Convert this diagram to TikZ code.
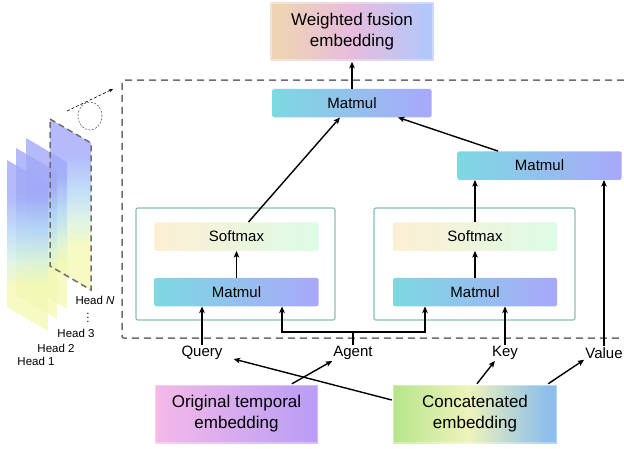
\documentclass[tikz,border=0pt]{standalone}
\usepackage{fontspec}
\setmainfont{Liberation Sans}
\usetikzlibrary{arrows.meta,positioning,calc}
\tikzset{>=Stealth}

\definecolor{mmA}{HTML}{7DD9E2}
\definecolor{mmB}{HTML}{A9A8F9}
\definecolor{smA}{HTML}{FCEFD4}
\definecolor{smB}{HTML}{DDFBE6}
\definecolor{wfA}{HTML}{EFD3B5}
\definecolor{wfB}{HTML}{E7BCDD}
\definecolor{wfC}{HTML}{B3C7FA}
\definecolor{otA}{HTML}{F4B9E7}
\definecolor{otB}{HTML}{B89DF6}
\definecolor{ceA}{HTML}{B7E58B}
\definecolor{ceB}{HTML}{EEF3BA}
\definecolor{ceC}{HTML}{8EBEEC}
\definecolor{hdA}{HTML}{A0A8F8}
\definecolor{hdB}{HTML}{B3D6F7}
\definecolor{hdM}{HTML}{D8F2DC}
\definecolor{hdC}{HTML}{F3F8B2}
\definecolor{framegray}{HTML}{6E6E6E}
\definecolor{cont}{HTML}{88C0B6}

% shadings: the shape covers 25bp..75bp
\pgfdeclarehorizontalshading{matmulsh}{100bp}{color(0bp)=(mmA); color(25bp)=(mmA); color(75bp)=(mmB); color(100bp)=(mmB)}
\pgfdeclarehorizontalshading{softsh}{100bp}{color(0bp)=(smA); color(25bp)=(smA); color(75bp)=(smB); color(100bp)=(smB)}
\pgfdeclarehorizontalshading{fusesh}{100bp}{color(0bp)=(wfA); color(28bp)=(wfA); color(50bp)=(wfB); color(73bp)=(wfC); color(100bp)=(wfC)}
\pgfdeclarehorizontalshading{origsh}{100bp}{color(0bp)=(otA); color(25bp)=(otA); color(75bp)=(otB); color(100bp)=(otB)}
\pgfdeclarehorizontalshading{concsh}{100bp}{color(0bp)=(ceA); color(25bp)=(ceA); color(48bp)=(ceB); color(72bp)=(ceC); color(100bp)=(ceC)}
\pgfdeclareverticalshading{headsh}{100bp}{color(0bp)=(hdC); color(25bp)=(hdC); color(38bp)=(hdC); color(45bp)=(hdM); color(54bp)=(hdB); color(64bp)=(hdA); color(100bp)=(hdA)}

\begin{document}
\begin{tikzpicture}[x=1pt,y=-1pt,
  every node/.style={font=\fontsize{15}{18}\selectfont},
  op/.style={shading=matmulsh, minimum width=164pt, minimum height=28.5pt, rounded corners=1.5pt, inner sep=0pt},
  soft/.style={op, shading=softsh},
  unit/.style={draw=cont, line width=1.2pt, rounded corners=2pt, fill=white, minimum width=199pt, minimum height=112pt},
  embed/.style={minimum width=163pt, minimum height=58pt, align=center, font=\fontsize{17}{21}\selectfont, draw=white, draw opacity=.35, line width=2.5pt},
  tag/.style={inner sep=1pt},
  headtag/.style={font=\fontsize{11.5}{14}\selectfont, inner sep=0pt},
  arr/.style={->, line width=1.4pt, >={Stealth[length=6.5pt,width=5.5pt,inset=1.5pt]}},
  wire/.style={line width=1.4pt},
  plane/.style={shading=headsh, fill opacity=.78},
]
\useasboundingbox (0,0) rectangle (624,448);

% attention heads
\foreach \hx/\hy in {50/119, 26/138, 16/148, 7/160}
  \shade[plane] (\hx,\hy) -- ++(41,24) -- ++(0,147) -- ++(-41,-24) -- cycle;
\draw[framegray, line width=1.5pt, dash pattern=on 6pt off 4pt]
  (50,119) -- ++(41,24) -- ++(0,147) -- ++(-41,-24) -- cycle;
\draw[framegray!80!black, line width=.6pt, dash pattern=on 2pt off 1.5pt] (90,116) ellipse [x radius=12pt, y radius=14pt];
\draw[->, >={Stealth[length=4pt,width=3.5pt]}, line width=.6pt, dash pattern=on 3pt off 2pt] (67,111) -- (113,89);

\node[headtag] (hN) at (95,300) {Head \textit{N}};
\node[headtag] (hdots) at (88,315) {$\vdots$};
\node[headtag] (h3) at (76,333) {Head 3};
\node[headtag] (h2) at (56,348) {Head 2};
\node[headtag] (h1) at (36,361) {Head 1};

% one head
\draw[framegray, line width=1.5pt, dash pattern=on 7pt off 5pt, rounded corners=2pt]
  (624,80) -- (122,80) -- (122,338) -- (624,338);

\node[embed, shading=fusesh] (fuse) at (352,31.5) {Weighted fusion\\embedding};
\node[op, minimum width=159pt] (mmTop) at (352,103) {Matmul};
\node[op] (mmR) at (539.5,165.5) {Matmul};

\node[unit] (boxL) at (235.5,264) {};
\node[soft] (smL) at (236.5,236.5) {Softmax};
\node[op] (mmL) at (236.5,292) {Matmul};

\node[unit, minimum width=201pt] (boxR) at (474.5,264) {};
\node[soft] (smR) at (475,236.5) {Softmax};
\node[op] (mmR2) at (475,292) {Matmul};

\node[tag] (query) at (202,353) {Query};
\node[tag] (agent) at (353,353) {Agent};
\node[tag] (key) at (505,353) {Key};
\node[tag] (value) at (604,353) {Value};

\node[embed, shading=origsh] (orig) at (236.5,414) {Original temporal\\embedding};
\node[embed, shading=concsh, minimum width=164pt] (concat) at (475,414) {Concatenated\\embedding};

\draw[arr] (mmTop.north) -- (fuse.south);
\draw[arr] ([xshift=12pt]smL.north) -- ([xshift=-12pt]mmTop.south);
\draw[arr] ([xshift=-41.5pt]mmR.north) -- ([xshift=46pt]mmTop.south);
\draw[arr] (mmL) -- (smL);
\draw[arr] (mmR2) -- (smR);
\draw[arr] (smR.north) -- (smR.north |- mmR.south);

\draw[arr] (query.north) -- (query.north |- mmL.south);
\coordinate (agentJ) at (353,332);
\draw[wire] (agent.north) -- (agentJ);
\draw[arr] (agentJ) -| ([xshift=45.5pt]mmL.south);
\draw[arr] (agentJ) -| ([xshift=-50pt]mmR2.south);
\draw[arr] (key.north) -- (key.north |- mmR2.south);
\draw[arr] (value.north) -- (value.north |- mmR.south);

\draw[arr] ([xshift=55.5pt]orig.north) -- (agent.south west);
\draw[arr] ([yshift=14pt]concat.west) -- ([xshift=10pt,yshift=2pt]query.south east);
\draw[arr] ([xshift=2pt]concat.north) -- ([xshift=4pt]key.south west);
\draw[arr] ([xshift=-10pt]concat.north east) -- (value.south west);
\end{tikzpicture}
\end{document}
